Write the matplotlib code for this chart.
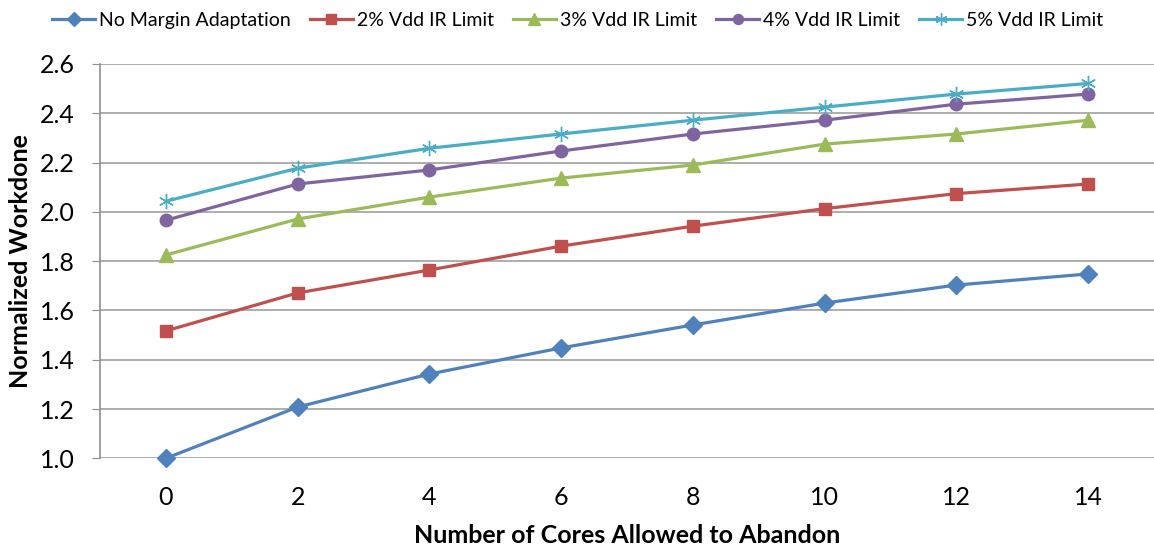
import matplotlib.pyplot as plt

cores = ["0", "2", "4", "6", "8", "10", "12", "14"]

no_margin = [1.000, 1.208, 1.342, 1.448, 1.541, 1.630, 1.703, 1.748]
vdd_2pct = [1.517, 1.671, 1.764, 1.861, 1.942, 2.013, 2.074, 2.113]
vdd_3pct = [1.825, 1.971, 2.060, 2.137, 2.190, 2.275, 2.316, 2.372]
vdd_4pct = [1.966, 2.113, 2.170, 2.247, 2.316, 2.372, 2.437, 2.478]
vdd_5pct = [2.043, 2.177, 2.258, 2.316, 2.372, 2.425, 2.478, 2.521]

plt.rcParams['font.family'] = ['Lato', 'DejaVu Sans']

fig = plt.figure(figsize=(11.54, 5.48), dpi=100)
ax = fig.add_axes([100 / 1154, 1 - 458.3 / 548, 1 - 100 / 1154, (458.3 - 64) / 548])

x = list(range(len(cores)))
series = [
    ("No Margin Adaptation", no_margin, "#4F81BD", "D", 9),
    ("2% Vdd IR Limit", vdd_2pct, "#C0504D", "s", 9),
    ("3% Vdd IR Limit", vdd_3pct, "#9BBB59", "^", 10),
    ("4% Vdd IR Limit", vdd_4pct, "#8064A2", "o", 9),
    ("5% Vdd IR Limit", vdd_5pct, "#4BACC6", (6, 2, 0), 11),
]

for label, vals, color, marker, ms in series:
    ax.plot(x, vals, color=color, lw=2.3, marker=marker, markersize=ms,
            markerfacecolor=color, markeredgecolor=color,
            markeredgewidth=1.0, label=label, clip_on=False, zorder=3)

ax.set_xlim(-0.5, len(cores) - 0.5)
ax.set_ylim(1.0, 2.6)
ax.set_yticks([1.0, 1.2, 1.4, 1.6, 1.8, 2.0, 2.2, 2.4, 2.6])
ax.set_yticklabels([f"{v:.1f}" for v in ax.get_yticks()])
ax.set_xticks(x)
ax.set_xticklabels(cores)

ax.grid(axis='y', color='#A0A0A0', lw=1.2)
ax.set_axisbelow(True)
for s in ['top', 'right', 'bottom']:
    ax.spines[s].set_visible(False)
ax.spines['left'].set_color('#909090')
ax.spines['left'].set_linewidth(1.2)
ax.tick_params(axis='y', length=6, color='#909090', labelsize=18, pad=12)
ax.tick_params(axis='x', length=0, labelsize=18, pad=20)

ax.set_xlabel("Number of Cores Allowed to Abandon", fontsize=18, fontweight='bold', labelpad=11)
ax.set_ylabel("Normalized Workdone", fontsize=18, fontweight='bold', labelpad=6)

fig.legend(loc='upper left', bbox_to_anchor=(0.03, 1.01), ncol=5, frameon=False,
           fontsize=14, handlelength=2.2, handletextpad=0.2, columnspacing=1.0,
           markerscale=0.8)

fig.savefig("out.png", dpi=100)
